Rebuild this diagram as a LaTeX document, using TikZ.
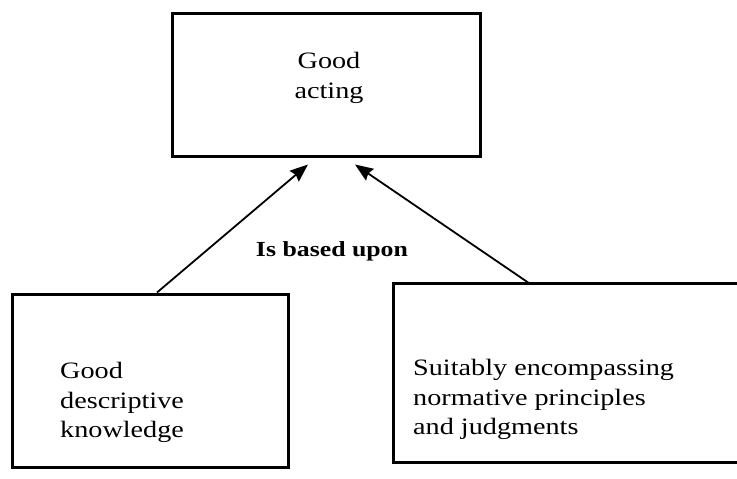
\documentclass[tikz,border=0pt]{standalone}
\usepackage{fontspec}
\setmainfont[FakeStretch=1.2]{Liberation Serif}
\usetikzlibrary{arrows.meta}
\begin{document}
\begin{tikzpicture}[x=1pt,y=-1pt,
  box/.style={draw, line width=3pt, inner sep=0pt, rectangle},
  edge/.style={line width=3pt},
  txt/.style={font=\fontsize{23.5}{29.5}\selectfont, inner sep=0pt},
  lbl/.style={font=\fontsize{21.5}{25}\selectfont\bfseries, inner sep=0pt},
  conn/.style={line width=1.8pt, -{Stealth[length=18pt,width=14pt,inset=2pt]}}]
\useasboundingbox (0,0) rectangle (737,479);
\fill[white] (0,0) rectangle (737,479);
% boxes
\node[box, minimum width=308pt, minimum height=143pt] (tb) at (326,84.5) {};
\node[box, minimum width=276pt, minimum height=173pt] (lb) at (150,380.5) {};
\node[inner sep=0pt, minimum width=400pt, minimum height=178pt] (rb) at (594,373) {};
\begin{scope}
\clip (0,0) rectangle (737,479);
\draw[edge] (rb.north east) -- (rb.north west) -- (rb.south west) -- (rb.south east);
\end{scope}
% texts
\node[txt, anchor=north, align=center] (tbt) at (329,52) {Good\\acting};
\node[txt, anchor=north west, align=left] (lbt) at (60,362) {Good\\descriptive\\knowledge};
\node[txt, anchor=north west, align=left] (rbt) at (413,359) {Suitably encompassing\\normative principles\\and judgments};
% connectors
\draw[conn] ([xshift=7pt]lb.north) -- ([xshift=-18pt,yshift=-7pt]tb.south);
\draw[conn] ([xshift=-64pt]rb.north) -- ([xshift=29pt,yshift=-7pt]tb.south);
\node[lbl, anchor=base] (based) at (332,256) {Is based upon};
\end{tikzpicture}
\end{document}
